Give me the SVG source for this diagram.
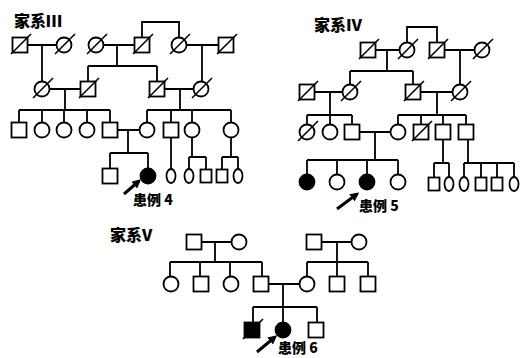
<svg xmlns="http://www.w3.org/2000/svg" width="527" height="358" viewBox="0 0 527 358">
<defs>
<style>
.ln{stroke:#000;stroke-width:1.8;fill:none}
.m{fill:#fff;stroke:#000;stroke-width:1.8}
.a{fill:#000;stroke:#000;stroke-width:1.8}
.d{stroke:#000;stroke-width:1.6}
.t{font-family:"Noto Sans CJK SC","Noto Sans",sans-serif;font-weight:900;font-size:16px;fill:#000}
.p{font-family:"Noto Sans CJK SC","Noto Sans",sans-serif;font-weight:900;font-size:14px;fill:#000}
.ar{stroke:#000;stroke-width:3;fill:none}
</style>
<marker id="ah" viewBox="0 0 10 10" refX="7" refY="5" markerWidth="3" markerHeight="3" orient="auto">
<path d="M0,0 L10,5 L0,10 z" fill="#000"/>
</marker>
<rect id="sq" x="-7.5" y="-7.5" width="15" height="15"/>
<circle id="ci" r="7.5"/>
<rect id="ssq" x="-5.5" y="-6.5" width="11" height="13"/>
<ellipse id="ov" rx="4.5" ry="7"/>
<line id="sl" x1="-9" y1="9" x2="11" y2="-11"/>
</defs>

<!-- titles -->
<text class="t" x="14" y="27">家系Ⅲ</text>
<text class="t" x="314" y="31">家系Ⅳ</text>
<text class="t" x="110" y="241">家系V</text>

<!-- connectors -->
<g id="connectors" class="ln">
<!-- family III -->
<path d="M27.5,45H56.5M42,45V81.5"/>
<path d="M103.5,45H134.5M117,45V66M88,66H157M88,66V81.5M157,66V81.5"/>
<path d="M142,37.5V22H179V37.5"/>
<path d="M186.5,45H218.5M202,45V81.5"/>
<path d="M49.5,89H80.5M65,89V110M19,110H110M19,110V122.5M42,110V122.5M64,110V122.5M87,110V122.5M110,110V122.5"/>
<path d="M164.5,89H193.5M180,89V110M147,110H231M147,110V122.5M171,110V122.5M192,110V122.5M231,110V122.5"/>
<path d="M117.5,130H139.5M128,130V153M110,153H148M110,153V168M148,153V168"/>
<path d="M171,137.5V169"/>
<path d="M192,137.5V157M189,157H206M189,157V169M206,157V169.5"/>
<path d="M231,137.5V157M222,157H238M222,157V169.5M238,157V169"/>
<!-- family IV -->
<path d="M375.5,50H399.5M387,50V71M350,71H413M350,71V84.5M413,71V84.5"/>
<path d="M407,42.5V27H437V42.5"/>
<path d="M444.5,50H474.5M460,50V84.5"/>
<path d="M314.5,92H342.5M330,92V115M307,115H352M307,115V124.5M330,115V124.5M352,115V124.5"/>
<path d="M420.5,92H452.5M437,92V115M398,115H466M398,115V124.5M421,115V124.5M443,115V124.5M466,115V124.5"/>
<path d="M359.5,132H390.5M375,132V160M307,160H398M307,160V174.5M337,160V174.5M367,160V174.5M398,160V174.5"/>
<path d="M443,139.5V163M434,163H449M434,163V177.5M449,163V177"/>
<path d="M468,139.5V163M464,163H514M464,163V177M481,163V177.5M497,163V177.5M514,163V177"/>
<!-- family V -->
<path d="M201.5,242H231.5M215,242V262M170,262H262M170,262V276.5M200,262V276.5M230,262V276.5M262,262V276.5"/>
<path d="M321.5,242H351.5M337,242V262M307,262H368M307,262V276.5M337,262V276.5M368,262V276.5"/>
<path d="M268.5,284H299.5M283,284V307M253,307H317M253,307V322.5M283,307V322.5M317,307V322.5"/>
</g>

<!-- family III nodes -->
<g id="III-1"><use href="#sq" class="m" x="20" y="45"/><use href="#sl" class="d" x="20" y="45"/></g>
<g id="III-2"><use href="#ci" class="m" x="64" y="45"/><use href="#sl" class="d" x="64" y="45"/></g>
<g id="III-3"><use href="#ci" class="m" x="96" y="45"/><use href="#sl" class="d" x="96" y="45"/></g>
<g id="III-4"><use href="#sq" class="m" x="142" y="45"/><use href="#sl" class="d" x="142" y="45"/></g>
<g id="III-5"><use href="#ci" class="m" x="179" y="45"/><use href="#sl" class="d" x="179" y="45"/></g>
<g id="III-6"><use href="#sq" class="m" x="226" y="45"/><use href="#sl" class="d" x="226" y="45"/></g>
<g id="III-7"><use href="#ci" class="m" x="42" y="89"/><use href="#sl" class="d" x="42" y="89"/></g>
<g id="III-8"><use href="#sq" class="m" x="88" y="89"/><use href="#sl" class="d" x="88" y="89"/></g>
<g id="III-9"><use href="#sq" class="m" x="157" y="89"/><use href="#sl" class="d" x="157" y="89"/></g>
<g id="III-10"><use href="#ci" class="m" x="201" y="89"/><use href="#sl" class="d" x="201" y="89"/></g>
<g id="III-11"><use href="#sq" class="m" x="19" y="130"/></g>
<g id="III-12"><use href="#ci" class="m" x="42" y="130"/></g>
<g id="III-13"><use href="#ci" class="m" x="64" y="130"/></g>
<g id="III-14"><use href="#ci" class="m" x="87" y="130"/></g>
<g id="III-15"><use href="#sq" class="m" x="110" y="130"/></g>
<g id="III-16"><use href="#ci" class="m" x="147" y="130"/></g>
<g id="III-17"><use href="#sq" class="m" x="171" y="130"/></g>
<g id="III-18"><use href="#ci" class="m" x="192" y="130"/></g>
<g id="III-19"><use href="#ci" class="m" x="231" y="130"/></g>
<g id="III-20"><use href="#sq" class="m" x="110" y="176"/></g>
<g id="III-21"><use href="#ci" class="a" x="148" y="176"/></g>
<g id="III-22"><use href="#ov" class="m" x="171" y="176"/></g>
<g id="III-23"><use href="#ov" class="m" x="189" y="176"/></g>
<g id="III-24"><use href="#ssq" class="m" x="206" y="176"/></g>
<g id="III-25"><use href="#ssq" class="m" x="222" y="176"/></g>
<g id="III-26"><use href="#ov" class="m" x="238" y="176"/></g>
<g id="proband-4"><line class="ar" x1="124" y1="194" x2="139" y2="181" marker-end="url(#ah)"/><text class="p" x="133" y="205">患例 4</text></g>

<!-- family IV nodes -->
<g id="IV-1"><use href="#sq" class="m" x="368" y="50"/><use href="#sl" class="d" x="368" y="50"/></g>
<g id="IV-2"><use href="#ci" class="m" x="407" y="50"/><use href="#sl" class="d" x="407" y="50"/></g>
<g id="IV-3"><use href="#sq" class="m" x="437" y="50"/><use href="#sl" class="d" x="437" y="50"/></g>
<g id="IV-4"><use href="#ci" class="m" x="482" y="50"/><use href="#sl" class="d" x="482" y="50"/></g>
<g id="IV-5"><use href="#sq" class="m" x="307" y="92"/><use href="#sl" class="d" x="307" y="92"/></g>
<g id="IV-6"><use href="#ci" class="m" x="350" y="92"/><use href="#sl" class="d" x="350" y="92"/></g>
<g id="IV-7"><use href="#sq" class="m" x="413" y="92"/><use href="#sl" class="d" x="413" y="92"/></g>
<g id="IV-8"><use href="#ci" class="m" x="460" y="92"/><use href="#sl" class="d" x="460" y="92"/></g>
<g id="IV-9"><use href="#ci" class="m" x="307" y="132"/><use href="#sl" class="d" x="307" y="132"/></g>
<g id="IV-10"><use href="#ci" class="m" x="330" y="132"/></g>
<g id="IV-11"><use href="#sq" class="m" x="352" y="132"/></g>
<g id="IV-12"><use href="#ci" class="m" x="398" y="132"/></g>
<g id="IV-13"><use href="#sq" class="m" x="421" y="132"/><use href="#sl" class="d" x="421" y="132"/></g>
<g id="IV-14"><use href="#sq" class="m" x="443" y="132"/></g>
<g id="IV-15"><use href="#sq" class="m" x="466" y="132"/></g>
<g id="IV-16"><use href="#ci" class="a" x="307" y="182"/></g>
<g id="IV-17"><use href="#ci" class="m" x="337" y="182"/></g>
<g id="IV-18"><use href="#ci" class="a" x="367" y="182"/></g>
<g id="IV-19"><use href="#ci" class="m" x="398" y="182"/></g>
<g id="IV-20"><use href="#ssq" class="m" x="434" y="184"/></g>
<g id="IV-21"><use href="#ov" class="m" x="449" y="184"/></g>
<g id="IV-22"><use href="#ov" class="m" x="464" y="184"/></g>
<g id="IV-23"><use href="#ssq" class="m" x="481" y="184"/></g>
<g id="IV-24"><use href="#ssq" class="m" x="497" y="184"/></g>
<g id="IV-25"><use href="#ov" class="m" x="514" y="184"/></g>
<g id="proband-5"><line class="ar" x1="337" y1="209" x2="357" y2="194" marker-end="url(#ah)"/><text class="p" x="359" y="211">患例 5</text></g>

<!-- family V nodes -->
<g id="V-1"><use href="#sq" class="m" x="194" y="242"/></g>
<g id="V-2"><use href="#ci" class="m" x="239" y="242"/></g>
<g id="V-3"><use href="#sq" class="m" x="314" y="242"/></g>
<g id="V-4"><use href="#ci" class="m" x="359" y="242"/></g>
<g id="V-5"><use href="#ci" class="m" x="171" y="284"/></g>
<g id="V-6"><use href="#sq" class="m" x="201" y="284"/></g>
<g id="V-7"><use href="#ci" class="m" x="231" y="284"/></g>
<g id="V-8"><use href="#sq" class="m" x="261" y="284"/></g>
<g id="V-9"><use href="#ci" class="m" x="307" y="284"/></g>
<g id="V-10"><use href="#sq" class="m" x="337" y="284"/></g>
<g id="V-11"><use href="#sq" class="m" x="368" y="284"/></g>
<g id="V-12"><use href="#sq" class="a" x="252" y="330"/><use href="#sl" class="d" x="252" y="330"/></g>
<g id="V-13"><use href="#ci" class="a" x="283" y="330"/></g>
<g id="V-14"><use href="#sq" class="m" x="316" y="330"/></g>
<g id="proband-6"><line class="ar" x1="257" y1="352" x2="275" y2="337" marker-end="url(#ah)"/><text class="p" x="278" y="353">患例 6</text></g>
</svg>
